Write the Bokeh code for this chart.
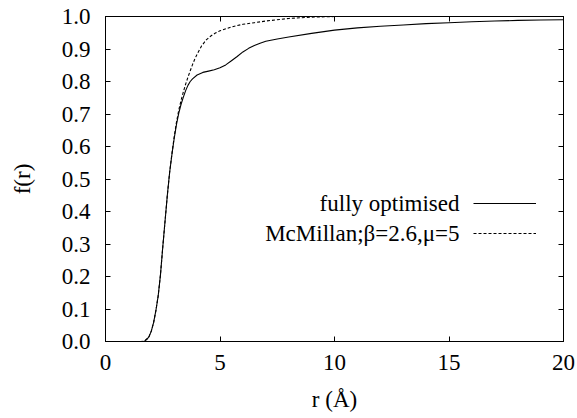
from bokeh.plotting import figure
from bokeh.models import Range1d, FixedTicker, LinearAxis, Legend, LegendItem, NumeralTickFormatter, Label
from bokeh.embed import file_html
from bokeh.resources import INLINE

# Data
r_opt = [0, 1.6, 1.7, 1.8, 1.9, 2.0, 2.1, 2.2, 2.3, 2.4, 2.5, 2.6, 2.7, 2.8, 2.9, 3.0,
         3.1, 3.2, 3.3, 3.4, 3.5, 3.6, 3.7, 3.8, 4.0, 4.25, 4.5, 4.75, 5.0, 5.25, 5.5,
         5.75, 6.0, 6.25, 6.5, 6.75, 7.0, 7.5, 8.0, 9.0, 10.0, 11.0, 12.0, 13.0, 14.0,
         15.0, 16.0, 17.0, 18.0, 19.0, 20.0]
f_opt = [0, 0, 0.001, 0.006, 0.015, 0.032, 0.058, 0.095, 0.14, 0.205, 0.29, 0.37, 0.45,
         0.52, 0.575, 0.625, 0.668, 0.703, 0.73, 0.752, 0.772, 0.788, 0.80, 0.808, 0.82,
         0.828, 0.832, 0.836, 0.842, 0.851, 0.864, 0.877, 0.891, 0.902, 0.911, 0.918,
         0.924, 0.931, 0.937, 0.948, 0.958, 0.965, 0.970, 0.974, 0.978, 0.981, 0.984,
         0.986, 0.988, 0.989, 0.990]

r_mcm = [0, 1.5, 1.7, 1.9, 2.0, 2.1, 2.2, 2.3, 2.4, 2.5, 2.6, 2.7, 2.8, 2.9, 3.0, 3.1,
         3.2, 3.3, 3.4, 3.5, 3.6, 3.7, 3.8, 3.9, 4.0, 4.2, 4.4, 4.6, 4.8, 5.0, 5.5, 6.0,
         6.5, 7.0, 8.0, 9.0, 10.0, 20.0]
f_mcm = [0, 0, 0.001, 0.015, 0.032, 0.058, 0.095, 0.14, 0.205, 0.29, 0.37, 0.45, 0.52,
         0.578, 0.63, 0.675, 0.712, 0.742, 0.768, 0.792, 0.813, 0.833, 0.852, 0.869, 0.884,
         0.91, 0.928, 0.94, 0.949, 0.956, 0.968, 0.976, 0.981, 0.986, 0.994, 0.998, 1.0,
         1.0]

x_ticks = [0, 5, 10, 15, 20]
y_ticks = [0.0, 0.1, 0.2, 0.3, 0.4, 0.5, 0.6, 0.7, 0.8, 0.9, 1.0]
labels = ["fully optimised", "McMillan;\u03b2=2.6,\u03bc=5"]

FONT = "Liberation Serif"
FS = "23px"

p = figure(width=577, height=418, x_range=Range1d(0, 20), y_range=Range1d(0, 1),
           output_backend="svg", toolbar_location=None,
           min_border_left=105, min_border_right=14, min_border_top=16, min_border_bottom=77,
           x_axis_label="r (\u00c5)", y_axis_label="f(r)")
p.grid.visible = False
p.outline_line_color = "black"
p.background_fill_color = "white"
p.border_fill_color = "white"

r1 = p.line(r_opt, f_opt, line_color="black", line_width=1.1)
r2 = p.line(r_mcm, f_mcm, line_color="black", line_width=1.1, line_dash="3 2")

def style_axis(ax, show_labels=True):
    ax.axis_line_color = "black"
    ax.major_tick_line_color = "black"
    ax.major_tick_in = 5
    ax.major_tick_out = 0
    ax.minor_tick_line_color = None
    ax.major_label_text_font = FONT
    ax.major_label_text_font_size = FS
    ax.major_label_text_color = "black"
    if not show_labels:
        ax.major_label_text_alpha = 0
    ax.axis_label_text_font = FONT
    ax.axis_label_text_font_size = FS
    ax.axis_label_text_font_style = "normal"
    ax.axis_label_text_color = "black"

xa = p.xaxis[0]
ya = p.yaxis[0]
style_axis(xa)
style_axis(ya)
xa.ticker = FixedTicker(ticks=x_ticks)
ya.ticker = FixedTicker(ticks=y_ticks)
ya.formatter = NumeralTickFormatter(format="0.0")
xa.major_label_standoff = 13
ya.major_label_standoff = 15
xa.axis_label_standoff = 14
ya.axis_label_standoff = 24

top = LinearAxis(ticker=FixedTicker(ticks=x_ticks), major_label_standoff=0)
right = LinearAxis(ticker=FixedTicker(ticks=y_ticks), major_label_standoff=0)
style_axis(top, False)
style_axis(right, False)
top.major_label_text_font_size = "1px"
right.major_label_text_font_size = "1px"
p.add_layout(top, "above")
p.add_layout(right, "right")

legend = Legend(items=[LegendItem(label=" ", renderers=[r1]),
                       LegendItem(label=" ", renderers=[r2])],
                location=(368, 98), glyph_width=63, glyph_height=20, spacing=10,
                label_standoff=0, label_text_font_size="1px",
                padding=0, margin=0, border_line_alpha=0, background_fill_alpha=0)
p.add_layout(legend, "center")

lab1 = Label(x=354, y=138, x_units="screen", y_units="screen", text=labels[0],
             text_align="right", text_baseline="middle", text_font=FONT,
             text_font_size=FS, text_color="black")
lab2 = Label(x=354, y=108, x_units="screen", y_units="screen", text=labels[1],
             text_align="right", text_baseline="middle", text_font=FONT,
             text_font_size=FS, text_color="black")
p.add_layout(lab1)
p.add_layout(lab2)

open("out.html", "w").write(file_html(p, INLINE))
